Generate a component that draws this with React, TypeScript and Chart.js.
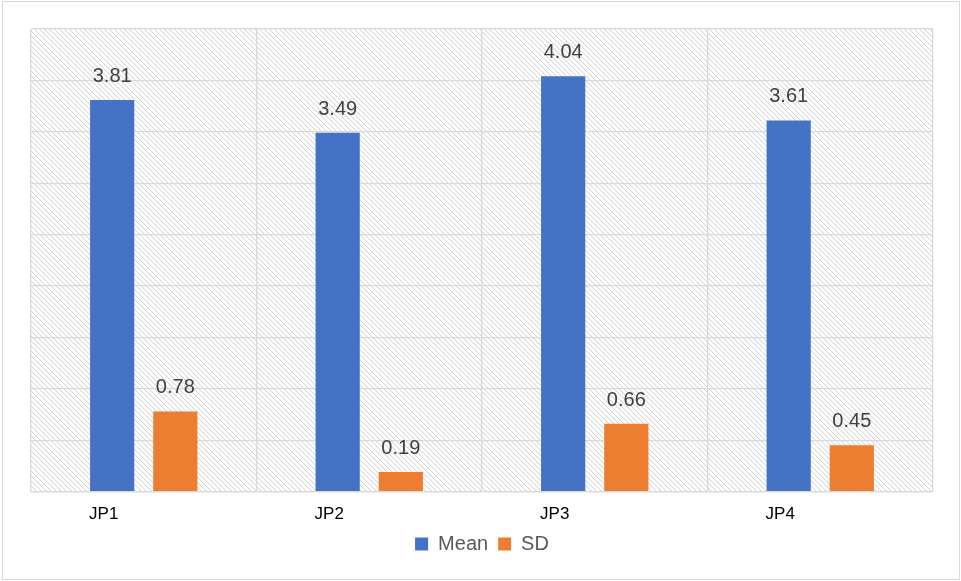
import React, { useEffect, useRef } from "react";
import { Chart, registerables } from "chart.js";

Chart.register(...registerables);

const categories = ["JP1", "JP2", "JP3", "JP4"];
const meanValues = [3.81, 3.49, 4.04, 3.61];
const sdValues = [0.78, 0.19, 0.66, 0.45];
const seriesNames = ["Mean", "SD"];
const yMax = 4.5;
const yStep = 0.5;

function makePattern(): CanvasPattern | string {
  const c = document.createElement("canvas");
  const n = 5;
  c.width = n;
  c.height = n;
  const g = c.getContext("2d");
  if (!g) return "#fff";
  g.fillStyle = "#ffffff";
  g.fillRect(0, 0, n, n);
  g.fillStyle = "#d8d8d8";
  for (let i = 0; i < n; i++) g.fillRect(i, i, 1, 1);
  g.fillStyle = "#f2f2f2";
  for (let i = 0; i < n; i++) g.fillRect((i + 1) % n, i, 1, 1);
  const p = g.createPattern(c, "repeat");
  return p || "#fff";
}

const bgPlugin = {
  id: "bgPlugin",
  beforeDraw(chart: any) {
    const { ctx, chartArea, width, height } = chart;
    ctx.save();
    ctx.fillStyle = "#ffffff";
    ctx.fillRect(0, 0, width, height);
    ctx.strokeStyle = "#d9d9d9";
    ctx.lineWidth = 1;
    ctx.strokeRect(2.5, 1.5, width - 4, height - 3);
    ctx.fillStyle = makePattern();
    ctx.fillRect(chartArea.left, chartArea.top, chartArea.right - chartArea.left, chartArea.bottom - chartArea.top);
    ctx.restore();
  },
};

const labelPlugin = {
  id: "labelPlugin",
  afterDatasetsDraw(chart: any) {
    const { ctx } = chart;
    ctx.save();
    ctx.font = "20px 'Liberation Sans', Arial, sans-serif";
    ctx.fillStyle = "#404040";
    ctx.textAlign = "center";
    ctx.textBaseline = "alphabetic";
    chart.data.datasets.forEach((ds: any, di: number) => {
      const meta = chart.getDatasetMeta(di);
      meta.data.forEach((bar: any, i: number) => {
        ctx.fillText(Number(ds.data[i]).toFixed(2), bar.x, bar.y - 18);
      });
    });
    ctx.restore();
  },
};

export default function App() {
  const ref = useRef<HTMLCanvasElement>(null);
  useEffect(() => {
    document.body.style.margin = "0";
    if (!ref.current) return;
    const chart = new Chart(ref.current, {
      type: "bar",
      data: {
        labels: categories,
        datasets: [
          {
            label: seriesNames[0],
            data: meanValues,
            backgroundColor: "#4472C4",
            categoryPercentage: 0.56,
            barPercentage: 0.7,
          },
          {
            label: seriesNames[1],
            data: sdValues,
            backgroundColor: "#ED7D31",
            categoryPercentage: 0.56,
            barPercentage: 0.7,
          },
        ],
      },
      options: {
        animation: false,
        responsive: true,
        maintainAspectRatio: false,
        layout: { padding: { left: 31, right: 28, top: 29, bottom: 17 } },
        plugins: {
          tooltip: { enabled: false },
          legend: {
            position: "bottom",
            labels: {
              boxWidth: 13,
              boxHeight: 13,
              padding: 10,
              color: "#595959",
              font: { size: 20, family: "'Liberation Sans', Arial, sans-serif" },
            },
          },
        },
        scales: {
          x: {
            grid: { color: "#d9d9d9", lineWidth: 1.3, drawTicks: false, offset: true },
            border: { color: "#d9d9d9", width: 1.3 },
            afterFit: (scale: any) => {
              scale.height -= 14;
            },
            ticks: {
              color: "#000000",
              padding: 13,
              labelOffset: -40,
              font: { size: 17, family: "'Liberation Sans', Arial, sans-serif" },
            },
          },
          y: {
            min: 0,
            max: yMax,
            ticks: { display: false, stepSize: yStep },
            grid: { color: "#d9d9d9", lineWidth: 1.3, drawTicks: false },
            border: { display: false },
          },
        },
      },
      plugins: [bgPlugin, labelPlugin],
    });
    return () => chart.destroy();
  }, []);
  return (
    <div style={{ width: 961, height: 581, position: "relative" }}>
      <canvas ref={ref} />
    </div>
  );
}
